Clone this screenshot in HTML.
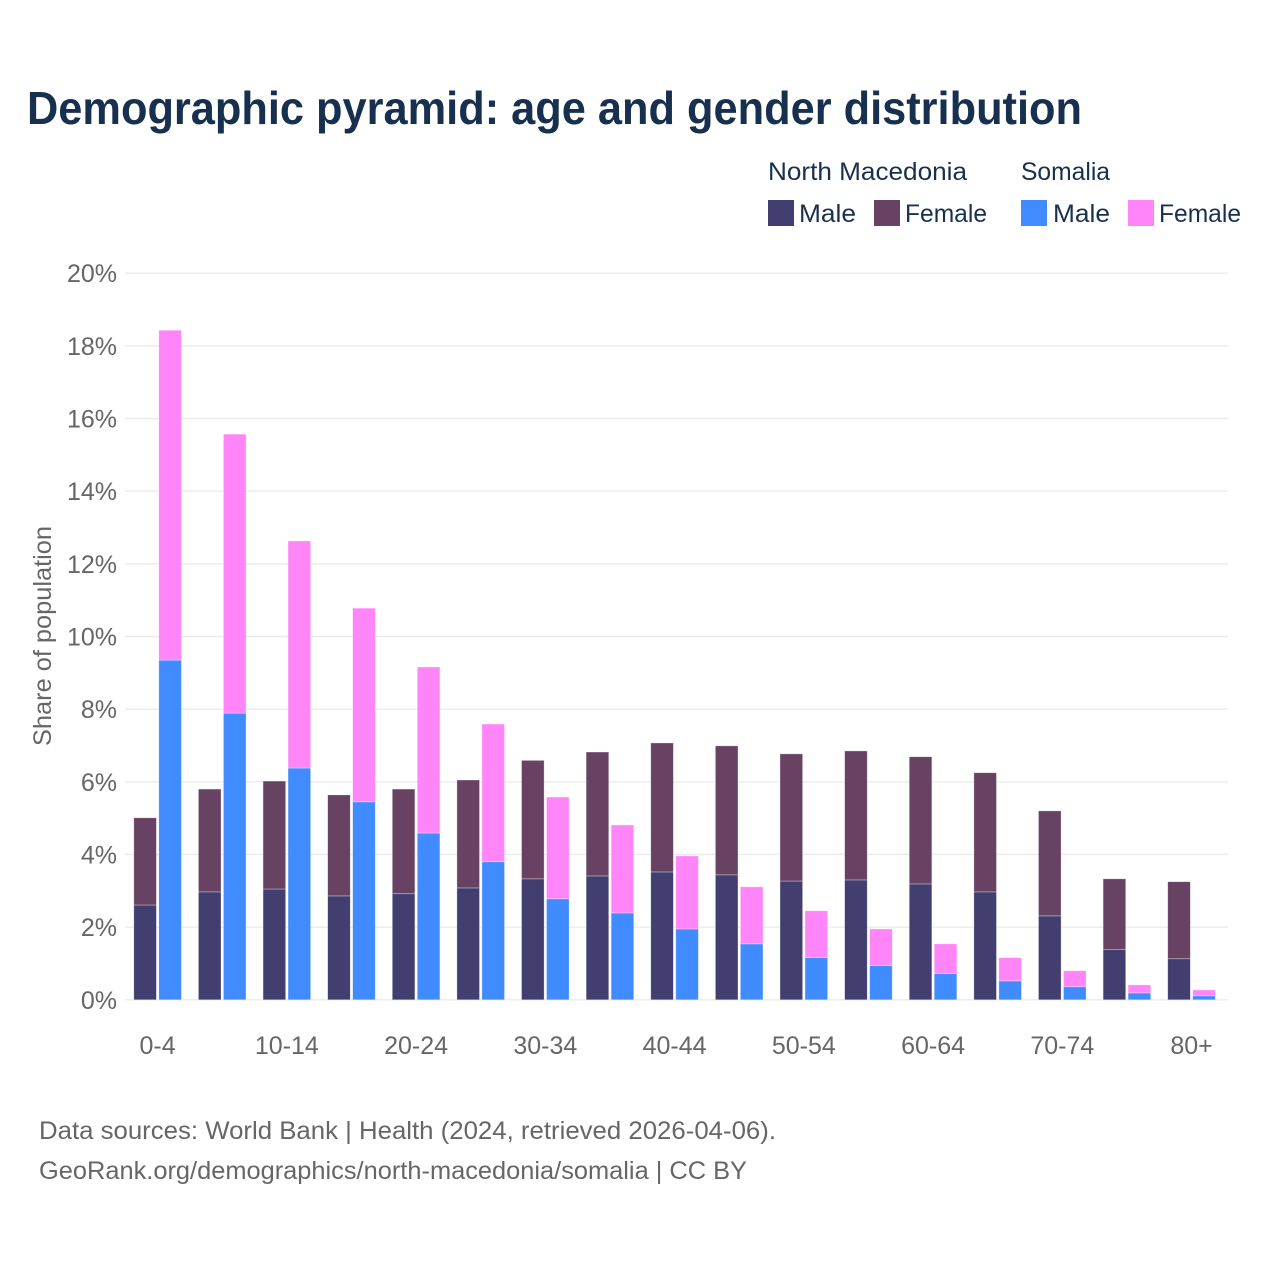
<!DOCTYPE html>
<html lang="en">
<head>
<meta charset="utf-8">
<title>Demographic pyramid</title>
<style>
html,body{margin:0;padding:0;background:#fff;}
svg{display:block;font-family:"Liberation Sans",sans-serif;}
</style>
</head>
<body>
<svg id="chart" xmlns="http://www.w3.org/2000/svg" width="1280" height="1280" viewBox="0 0 1280 1280">
  <rect width="1280" height="1280" fill="#fff"/>
  <text x="27" y="124" font-size="46" font-weight="700" fill="#18304f" textLength="1055" lengthAdjust="spacingAndGlyphs">Demographic pyramid: age and gender distribution</text>
  <g font-size="25" fill="#18304f">
    <text x="768" y="180" textLength="199" lengthAdjust="spacingAndGlyphs">North Macedonia</text>
    <text x="1021" y="180" textLength="89" lengthAdjust="spacingAndGlyphs">Somalia</text>
    <rect x="768" y="200" width="26" height="26" fill="#423f70"/>
    <text x="799" y="222" textLength="57" lengthAdjust="spacingAndGlyphs">Male</text>
    <rect x="874" y="200" width="26" height="26" fill="#674263"/>
    <text x="905" y="222" textLength="82" lengthAdjust="spacingAndGlyphs">Female</text>
    <rect x="1021" y="200" width="26" height="26" fill="#3f8bff"/>
    <text x="1053" y="222" textLength="57" lengthAdjust="spacingAndGlyphs">Male</text>
    <rect x="1128" y="200" width="26" height="26" fill="#ff85f9"/>
    <text x="1159" y="222" textLength="82" lengthAdjust="spacingAndGlyphs">Female</text>
  </g>
  <g id="grid"></g>
  <g id="yticks"></g>
  <g id="bars"></g>
  <g id="xticks"></g>
  <text transform="translate(51,746) rotate(-90)" font-size="25" fill="#666" textLength="220" lengthAdjust="spacingAndGlyphs">Share of population</text>
  <text x="39" y="1139" font-size="25" fill="#666" textLength="737" lengthAdjust="spacingAndGlyphs">Data sources: World Bank | Health (2024, retrieved 2026-04-06).</text>
  <text x="39" y="1179" font-size="25" fill="#666" textLength="708" lengthAdjust="spacingAndGlyphs">GeoRank.org/demographics/north-macedonia/somalia | CC BY</text>
</svg>
<script>
const categories = ["0-4","5-9","10-14","15-19","20-24","25-29","30-34","35-39","40-44","45-49","50-54","55-59","60-64","65-69","70-74","75-79","80+"];
const nmMale = [2.61,2.97,3.05,2.86,2.92,3.08,3.33,3.41,3.52,3.44,3.27,3.30,3.19,2.97,2.31,1.38,1.13];
const nmFemale = [2.40,2.83,2.97,2.78,2.88,2.97,3.26,3.41,3.55,3.55,3.50,3.55,3.50,3.28,2.89,1.95,2.12];
const somaliaMale = [9.35,7.89,6.38,5.45,4.59,3.80,2.78,2.39,1.95,1.54,1.16,0.94,0.72,0.52,0.36,0.19,0.11];
const somaliaFemale = [9.08,7.68,6.25,5.33,4.57,3.79,2.80,2.42,2.01,1.57,1.29,1.01,0.82,0.64,0.44,0.22,0.16];
const yTicks = [0,2,4,6,8,10,12,14,16,18,20];

const NS = "http://www.w3.org/2000/svg";
const plotLeft = 125.3, bandStep = 64.62, gridRight = 1228;
const yZero = 999.8, pxPerPercent = 36.33;
function xCenter(i){ return plotLeft + bandStep * (i + 0.5); }
function yScale(v){ return yZero - v * pxPerPercent; }

const gridG = document.getElementById("grid");
const yTickG = document.getElementById("yticks");
const barsG = document.getElementById("bars");
const xTickG = document.getElementById("xticks");

yTicks.forEach(function(t){
  const line = document.createElementNS(NS, "line");
  
  
  line.setAttribute("x1", 125);
  line.setAttribute("x2", gridRight);
  line.setAttribute("y1", yScale(t));
  line.setAttribute("y2", yScale(t));
  line.setAttribute("stroke", "#ebebeb");
  line.setAttribute("stroke-width", "1.4");
  gridG.appendChild(line);
  const label = document.createElementNS(NS, "text");
  
  
  label.setAttribute("x", 117);
  label.setAttribute("y", yScale(t) + 9);
  label.setAttribute("text-anchor", "end");
  label.setAttribute("font-size", "25");
  label.setAttribute("fill", "#666");
  label.textContent = t + "%";
  yTickG.appendChild(label);
});

function addBar(x, w, base, value, fill){
  const r = document.createElementNS(NS, "rect");
  
  
  const top = yScale(base + value);
  r.setAttribute("x", x);
  r.setAttribute("y", top);
  r.setAttribute("width", w);
  r.setAttribute("height", yScale(base) - top);
  r.setAttribute("fill", fill);
  r.setAttribute("stroke", "rgba(255,255,255,0.45)");
  r.setAttribute("stroke-width", "0.7");
  barsG.appendChild(r);
}

categories.forEach(function(cat, i){
  const c = xCenter(i);
  const barW = 22.6;
  addBar(c - 23.8, barW, 0, nmMale[i], "#423f70");
  addBar(c - 23.8, barW, nmMale[i], nmFemale[i], "#674263");
  addBar(c + 1.2, barW, 0, somaliaMale[i], "#3f8bff");
  addBar(c + 1.2, barW, somaliaMale[i], somaliaFemale[i], "#ff85f9");
  if (i % 2 === 0) {
    const label = document.createElementNS(NS, "text");
    
    
    label.setAttribute("x", c);
    label.setAttribute("y", 1054);
    label.setAttribute("text-anchor", "middle");
    label.setAttribute("font-size", "25");
    label.setAttribute("fill", "#666");
    label.textContent = cat;
    xTickG.appendChild(label);
  }
});
</script>
</body>
</html>
